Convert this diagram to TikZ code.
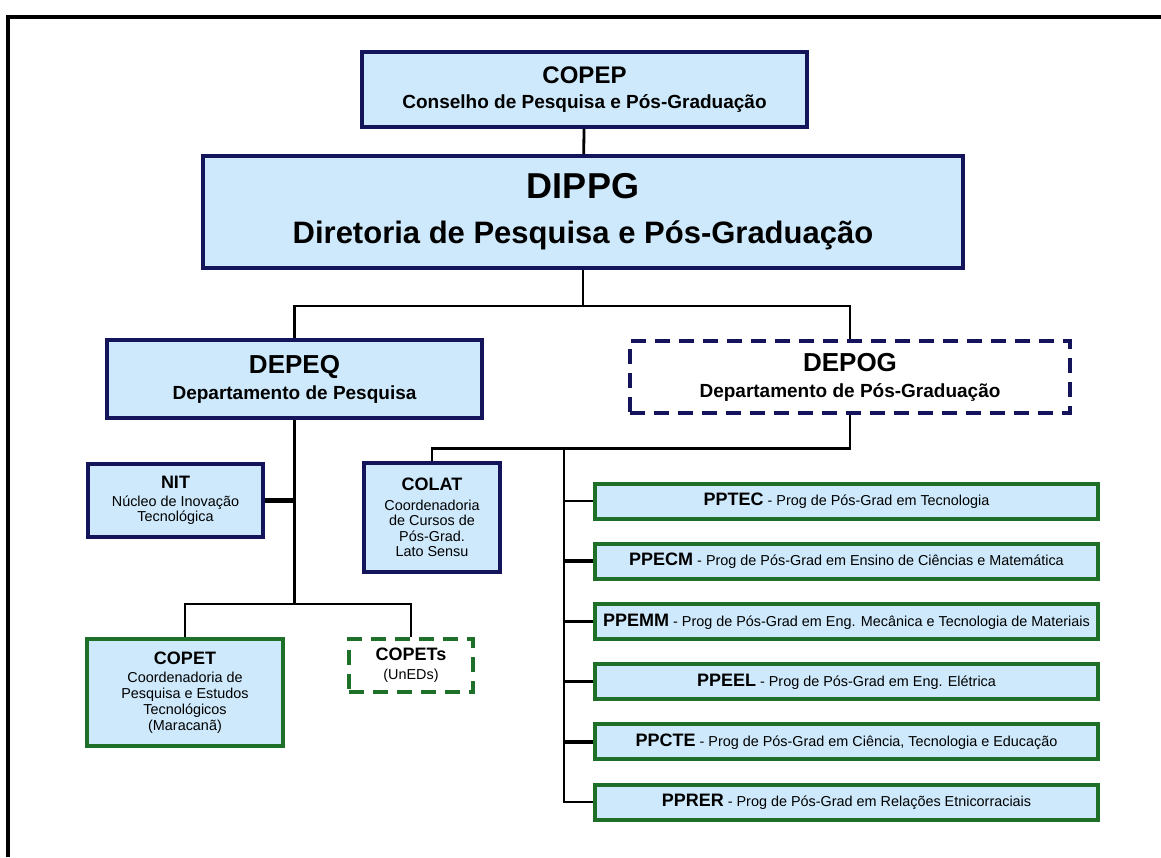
\documentclass[tikz,border=0pt]{standalone}
\usepackage{fontspec}
\setmainfont{Liberation Sans}
\usepackage{xcolor}
\usetikzlibrary{positioning}

\definecolor{boxfill}{RGB}{205,233,251}
\definecolor{navyline}{RGB}{20,20,90}
\definecolor{greenline}{RGB}{30,112,40}

\newcommand{\fsz}[2]{\fontsize{#1}{#2}\selectfont}

\begin{document}
\begin{tikzpicture}[x=0.5pt, y=-0.5pt,
  unit/.style={rectangle, draw=navyline, fill=boxfill, line width=1.8pt, align=center, inner sep=1pt},
  gunit/.style={unit, draw=greenline, line width=2pt},
  dashunit/.style={dash pattern=on 7.5pt off 4.5pt, fill=white},
  prog/.style={gunit, minimum width=251.5pt, minimum height=17.5pt, font=\fsz{7.2}{9}},
  link/.style={line width=1.4pt},
  heavylink/.style={line width=2.2pt}]
 	\useasboundingbox (0,0) rectangle (1161,857);
 	\draw[line width=1.6pt] (8,857) -- (8,17) -- (1161,17);

 	% top of the chart
 	\node (copep) [unit, minimum width=222.5pt, minimum height=37.5pt, font=\fsz{9.5}{12.5}\bfseries] at (584.5,89.5) {{\fsz{12}{14}COPEP}\\Conselho de Pesquisa e Pós-Graduação};
 	\node (dippg) [unit, minimum width=380pt, minimum height=56pt, font=\fsz{15.5}{22.6}\bfseries] at (583,212) {{\fsz{18}{20}DIPPG}\\Diretoria de Pesquisa e Pós-Graduação};
 	\node (depeq) [unit, minimum width=187.5pt, minimum height=39pt, font=\fsz{9.5}{13}\bfseries] at (294.5,379) {{\fsz{13}{15}DEPEQ}\\Departamento de Pesquisa};
 	\node (depog) [unit, dashunit, minimum width=220pt, minimum height=36pt, font=\fsz{9.5}{13}\bfseries] at (850,377) {{\fsz{13}{15}DEPOG}\\Departamento de Pós-Graduação};

 	% research side
 	\node (nit) [unit, minimum width=87.5pt, minimum height=36.5pt, font=\fsz{7.2}{7.5}] at (175.5,500.5) {{\fsz{9}{10}\bfseries NIT}\\[1.5pt]Núcleo de Inovação\\Tecnológica};
 	\node (colat) [unit, minimum width=68pt, minimum height=54.5pt, font=\fsz{7.2}{7.7}] at (432,517.5) {{\fsz{9}{10}\bfseries COLAT}\\[2pt]Coordenadoria\\de Cursos de\\Pós-Grad.\\Lato Sensu};
 	\node (copet) [gunit, minimum width=98pt, minimum height=53.5pt, font=\fsz{7.2}{8}] at (185,692.5) {{\fsz{9}{10}\bfseries COPET}\\[1pt]Coordenadoria de\\Pesquisa e Estudos\\Tecnológicos\\(Maracanã)};
 	\node (copets) [gunit, dashunit, minimum width=62pt, minimum height=26.5pt, font=\fsz{7.2}{9.5}] at (411,665.5) {{\fsz{9}{10}\bfseries COPETs}\\(UnEDs)};

 	% graduate programmes
 	\node (pptec) [prog] at (846.5,501) {{\fsz{9}{10}\bfseries PPTEC} - Prog de Pós-Grad em Tecnologia};
 	\node (ppecm) [prog, below=10.6pt of pptec] {{\fsz{9}{10}\bfseries PPECM} - Prog de Pós-Grad em Ensino de Ciências e Matemática};
 	\node (ppemm) [prog, below=10.6pt of ppecm] {{\fsz{9}{10}\bfseries PPEMM} - Prog de Pós-Grad em Eng. Mecânica e Tecnologia de Materiais};
 	\node (ppeel) [prog, below=10.6pt of ppemm] {{\fsz{9}{10}\bfseries PPEEL} - Prog de Pós-Grad em Eng. Elétrica};
 	\node (ppcte) [prog, below=10.6pt of ppeel] {{\fsz{9}{10}\bfseries PPCTE} - Prog de Pós-Grad em Ciência, Tecnologia e Educação};
 	\node (pprer) [prog, below=10.6pt of ppcte] {{\fsz{9}{10}\bfseries PPRER} - Prog de Pós-Grad em Relações Etnicorraciais};

 	% connectors
 	\coordinate (bus) at (583,306);
 	\coordinate (split) at (294.5,604);
 	\coordinate (pbus) at (564,447);
 	\draw[link] (copep) -- (dippg);
 	\draw[link] (dippg) -- (bus);
 	\draw[link] (bus) -| (depeq);
 	\draw[link] (bus) -| (depog);
 	\draw[link] (depeq) -- (split);
 	\draw[heavylink] (nit) -- (nit -| split);
 	\draw[link] (split) -| (copet);
 	\draw[link] (split) -| (copets);
 	\draw[link] (depog.south) -- ++(0,34) -| (colat);
 	\draw[link] (pbus) |- (pprer);
 	\draw[link] (pbus |- pptec) -- (pptec);
 	\draw[heavylink] (pbus |- ppecm) -- (ppecm);
 	\draw[link] (pbus |- ppemm) -- (ppemm);
 	\draw[link] (pbus |- ppeel) -- (ppeel);
 	\draw[heavylink] (pbus |- ppcte) -- (ppcte);
\end{tikzpicture}
\end{document}
